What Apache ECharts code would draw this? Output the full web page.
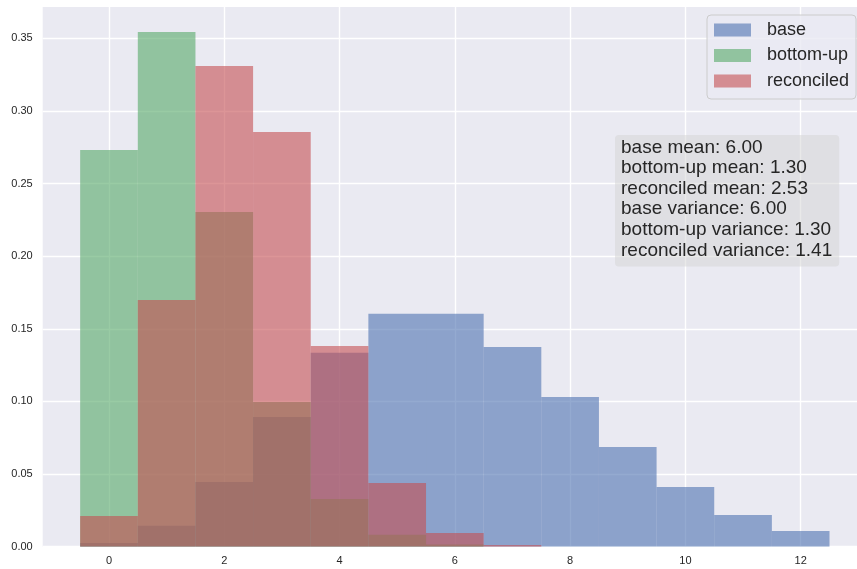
<!DOCTYPE html>
<html>
<head>
<meta charset="utf-8">
<script src="https://cdn.jsdelivr.net/npm/echarts@6/dist/echarts.min.js"></script>
<style>
html,body{margin:0;padding:0;background:#fff;}
#chart{width:857px;height:569px;}
</style>
</head>
<body>
<div id="chart"></div>
<script>
// bin centers (integer values)
const bins = [0, 1, 2, 3, 4, 5, 6, 7, 8, 9, 10, 11, 12];
const baseValues = [0.0025, 0.0145, 0.0445, 0.0893, 0.1335, 0.1603, 0.1603, 0.1375, 0.1030, 0.0686, 0.0411, 0.0218, 0.0108];
const bottomUpValues = [0.2731, 0.3543, 0.2304, 0.0996, 0.0328, 0.0082, 0.0015, 0, 0, 0, 0, 0, 0];
const reconciledValues = [0.0211, 0.1698, 0.3309, 0.2854, 0.1381, 0.0438, 0.0094, 0.0012, 0, 0, 0, 0, 0];
const xTicks = [0, 2, 4, 6, 8, 10, 12];
const yTicks = [0, 0.05, 0.10, 0.15, 0.20, 0.25, 0.30, 0.35];
const statsLines = [
  'base mean: 6.00',
  'bottom-up mean: 1.30',
  'reconciled mean: 2.53',
  'base variance: 6.00',
  'bottom-up variance: 1.30',
  'reconciled variance: 1.41'
];
const seriesNames = ['base', 'bottom-up', 'reconciled'];
const seriesColors = ['rgba(76,114,176,0.6)', 'rgba(85,168,104,0.6)', 'rgba(196,78,82,0.6)'];
const seriesValues = [baseValues, bottomUpValues, reconciledValues];

const FONT = '"Liberation Sans", Arial, sans-serif';
const TXT = '#262626';

function histSeries(name, color, values) {
  return {
    name: name,
    type: 'custom',
    itemStyle: { color: color },
    clip: true,
    data: bins.map((b, i) => [b, values[i]]),
    renderItem: function (params, api) {
      const x = api.value(0), v = api.value(1);
      if (!v) return null;
      const p0 = api.coord([x - 0.5, v]);
      const p1 = api.coord([x + 0.5, 0]);
      return {
        type: 'rect',
        shape: { x: p0[0], y: p0[1], width: p1[0] - p0[0], height: p1[1] - p0[1] },
        style: { fill: color }
      };
    }
  };
}

const chart = echarts.init(document.getElementById('chart'), null, { renderer: 'canvas' });
chart.setOption({
  animation: false,
  backgroundColor: '#ffffff',
  grid: {
    left: 42.7, right: 0, top: 7, bottom: 22.3,
    show: true, backgroundColor: '#EAEAF2', borderWidth: 0
  },
  xAxis: {
    type: 'value',
    min: -1.15, max: 12.977,
    axisLine: { show: false },
    axisTick: { show: false, customValues: xTicks },
    axisLabel: { customValues: xTicks, color: TXT, fontSize: 11, fontFamily: FONT, margin: 9 },
    splitLine: { show: true, lineStyle: { color: '#ffffff', width: 1.4 } }
  },
  yAxis: {
    type: 'value',
    min: 0, max: 0.3715,
    axisLine: { show: false },
    axisTick: { show: false, customValues: yTicks },
    axisLabel: {
      customValues: yTicks, color: TXT, fontSize: 11, fontFamily: FONT, margin: 10,
      formatter: v => v.toFixed(2)
    },
    splitLine: { show: true, lineStyle: { color: '#ffffff', width: 1.4 } }
  },
  legend: {
    orient: 'vertical',
    left: 707, top: 15,
    padding: [5, 7, 8, 7],
    itemWidth: 37, itemHeight: 13,
    itemGap: 5.5,
    icon: 'rect',
    backgroundColor: 'rgba(234,234,242,0.8)',
    borderColor: '#cccccc', borderWidth: 1, borderRadius: 4,
    textStyle: { fontSize: 18, fontFamily: FONT, color: TXT, lineHeight: 20, padding: [0, 0, 0, 11] },
    data: seriesNames
  },
  graphic: [{
    type: 'text',
    left: 615, top: 135,
    z: 100,
    style: {
      text: statsLines.join('\n'),
      font: '19px ' + FONT,
      fill: TXT,
      lineHeight: 20.6,
      backgroundColor: 'rgba(211,211,211,0.5)',
      padding: [2, 7, 6, 6],
      borderRadius: 4
    }
  }],
  series: seriesNames.map((n, i) => histSeries(n, seriesColors[i], seriesValues[i]))
});
</script>
</body>
</html>
